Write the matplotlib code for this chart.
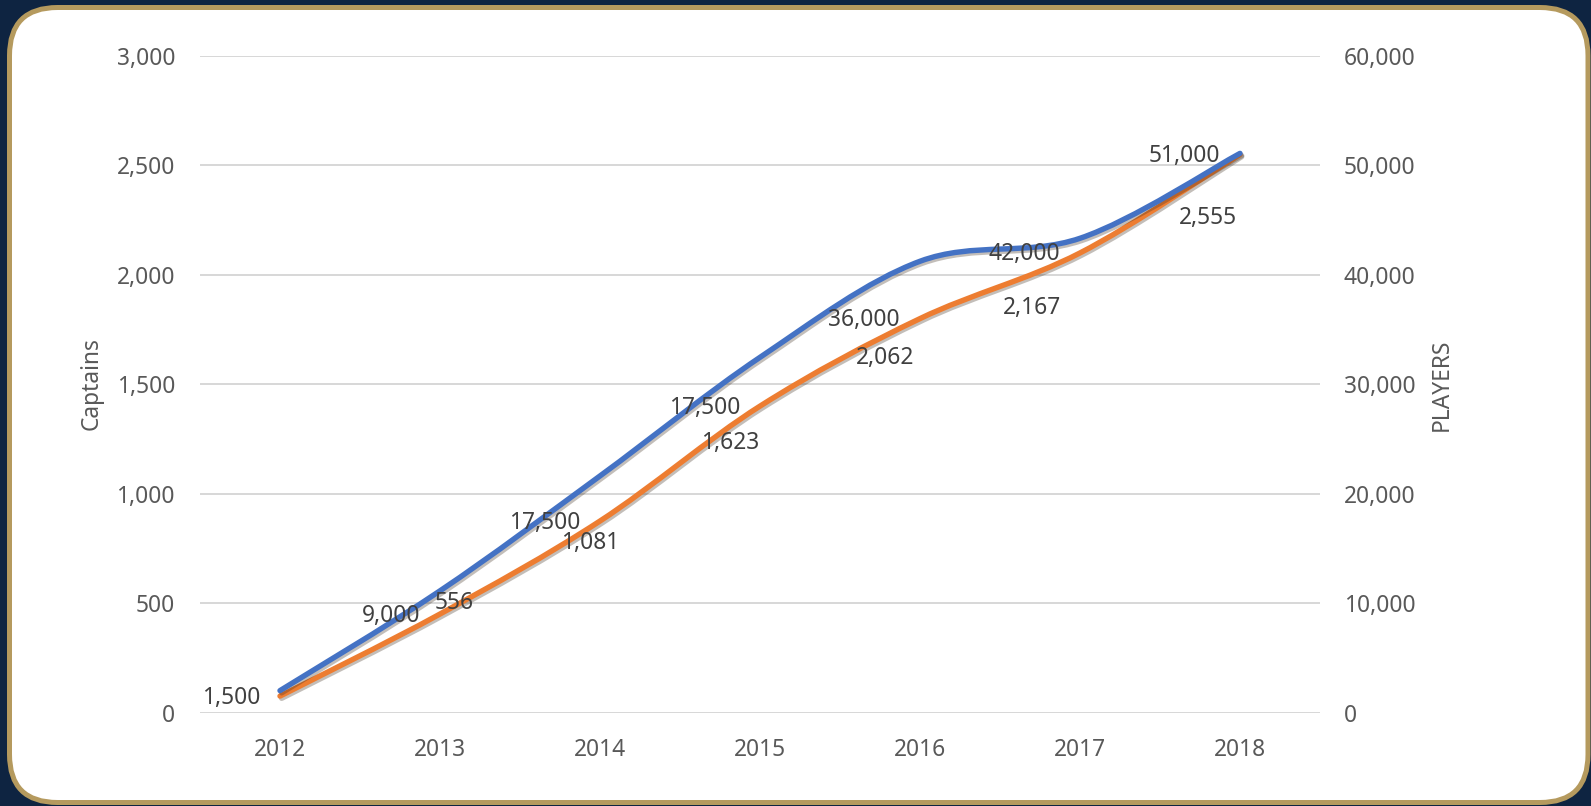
import matplotlib
matplotlib.use("Agg")
import matplotlib.pyplot as plt
from matplotlib.path import Path
from matplotlib.patches import PathPatch, FancyBboxPatch
from matplotlib.transforms import IdentityTransform
from matplotlib.ticker import FuncFormatter, MultipleLocator
import matplotlib.patheffects as pe

# ---------------- data ----------------
years = ["2012", "2013", "2014", "2015", "2016", "2017", "2018"]
captains = [100, 556, 1081, 1623, 2062, 2167, 2555]
players = [1500, 9000, 17500, 28000, 36000, 42000, 51000]
captain_labels = [None, "556", "1,081", "1,623", "2,062", "2,167", "2,555"]
player_labels = ["1,500", "9,000", "17,500", "17,500", "36,000", "42,000", "51,000"]

# label offsets (pixels: right, down) relative to each point
captain_label_off = [None, (14, 12), (-9.5, 67), (-29.5, 85.5), (-34.5, 96.5), (-48, 69.5), (-32.5, 65)]
player_label_off = (-20, 1.5)

BLUE = "#4472C4"
ORANGE = "#ED7D31"
NAVY = "#0E2441"
GOLD = "#B59A5E"
TICK_C = "#595959"
LAB_C = "#404040"
FONT = "Noto Sans"
FS = 16.4

plt.rcParams["font.family"] = [FONT, "DejaVu Sans"]

W, H = 1591, 806
fig = plt.figure(figsize=(W / 100, H / 100), dpi=100, facecolor=NAVY)

# white rounded panel with gold border
panel = FancyBboxPatch((9.5, 3.5), 1578.5, 795, boxstyle="round,pad=0,rounding_size=48",
                       transform=IdentityTransform(), facecolor="white", edgecolor=GOLD,
                       linewidth=3.6, zorder=0)
fig.add_artist(panel)

left, right = 200 / W, 1320 / W
top, bottom = 1 - 56 / H, 1 - 712.5 / H
rect = [left, bottom, right - left, top - bottom]

ax2 = fig.add_axes(rect)  # players (right axis), gridlines
ax = fig.add_axes(rect)   # captains (left axis), drawn on top
ax.patch.set_visible(False)
ax2.patch.set_visible(False)

x = list(range(len(years)))


def smooth_path(xs, ys):
    pts = list(zip(xs, ys))
    n = len(pts)
    verts = [pts[0]]
    codes = [Path.MOVETO]
    for i in range(n - 1):
        p0 = pts[i - 1] if i > 0 else pts[i]
        p1 = pts[i]
        p2 = pts[i + 1]
        p3 = pts[i + 2] if i + 2 < n else pts[i + 1]
        c1 = (p1[0] + (p2[0] - p0[0]) / 6.0, p1[1] + (p2[1] - p0[1]) / 6.0)
        c2 = (p2[0] - (p3[0] - p1[0]) / 6.0, p2[1] - (p3[1] - p1[1]) / 6.0)
        verts += [c1, c2, p2]
        codes += [Path.CURVE4, Path.CURVE4, Path.CURVE4]
    return Path(verts, codes)


shadow = [pe.SimpleLineShadow(offset=(1.2, -1.6), shadow_color="#3a2a1a", alpha=0.3), pe.Normal()]

pp = PathPatch(smooth_path(x, players), facecolor="none", edgecolor=ORANGE, linewidth=3.9,
               capstyle="round", joinstyle="round", zorder=3)
pp.set_path_effects(shadow)
ax2.add_patch(pp)

cp = PathPatch(smooth_path(x, captains), facecolor="none", edgecolor=BLUE, linewidth=3.9,
               capstyle="round", joinstyle="round", zorder=3)
cp.set_path_effects(shadow)
ax.add_patch(cp)

for a in (ax, ax2):
    a.set_xlim(-0.5, len(years) - 0.5)
    for s in a.spines.values():
        s.set_visible(False)
    a.tick_params(length=0)

ax.set_ylim(0, 3000)
ax2.set_ylim(0, 60000)
ax.yaxis.set_major_locator(MultipleLocator(500))
ax2.yaxis.set_major_locator(MultipleLocator(10000))
fmt = FuncFormatter(lambda v, p: f"{v:,.0f}")
ax.yaxis.set_major_formatter(fmt)
ax2.yaxis.set_major_formatter(fmt)

ax2.yaxis.tick_right()
ax2.grid(axis="y", color="#D4D4D4", linewidth=1.3, zorder=0)
ax2.set_axisbelow(True)
ax2.set_xticks(x)
ax2.set_xticklabels(years)
ax.set_xticks([])

ax.tick_params(axis="y", pad=18, labelsize=FS, labelcolor=TICK_C)
ax2.tick_params(axis="y", pad=17, labelsize=FS, labelcolor=TICK_C)
ax2.tick_params(axis="x", pad=18, labelsize=FS, labelcolor=TICK_C)
for t in ax.get_yticklabels() + ax2.get_yticklabels() + ax2.get_xticklabels():
    t.set_fontfamily([FONT, "DejaVu Sans"])

# axis titles
fig.text(92 / W, 1 - 384 / H, "Captains", rotation=90, ha="center", va="center",
         fontsize=FS, color=TICK_C)
fig.text(1442 / W, 1 - 385 / H, "PLAYERS", rotation=90, ha="center", va="center",
         fontsize=FS, color=TICK_C)

# data labels (drawn on top of everything)
px2pt = 0.72
for i, (v, lab) in enumerate(zip(players, player_labels)):
    dx, dy = player_label_off
    ax.annotate(lab, xy=(i, v), xycoords=ax2.transData,
                xytext=(dx * px2pt, -dy * px2pt), textcoords="offset points",
                ha="right", va="center", fontsize=FS, color=LAB_C, zorder=10)
for i, (v, lab, off) in enumerate(zip(captains, captain_labels, captain_label_off)):
    if lab is None:
        continue
    dx, dy = off
    ax.annotate(lab, xy=(i, v), xycoords=ax.transData,
                xytext=(dx * px2pt, -dy * px2pt), textcoords="offset points",
                ha="center", va="center", fontsize=FS, color=LAB_C, zorder=10)

fig.savefig("out.png", dpi=100, facecolor=NAVY)
